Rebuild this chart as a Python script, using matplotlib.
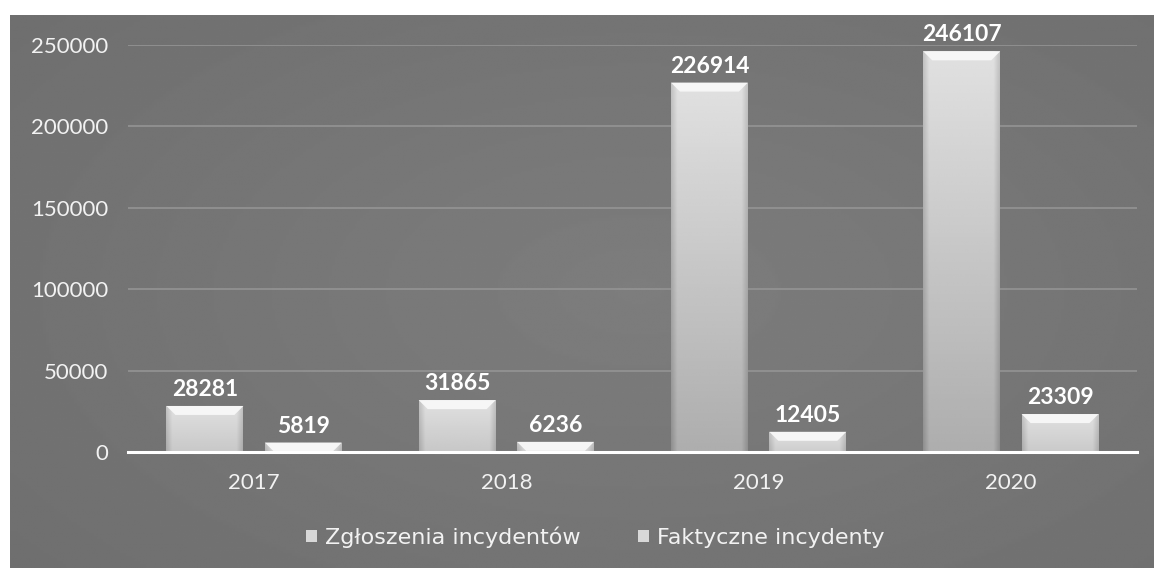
import numpy as np
import matplotlib
matplotlib.use("Agg")
import matplotlib.pyplot as plt
from matplotlib.patches import Polygon

years = ["2017", "2018", "2019", "2020"]
zgloszenia = [28281, 31865, 226914, 246107]
faktyczne = [5819, 6236, 12405, 23309]
series_names = ["Zgłoszenia incydentów", "Faktyczne incydenty"]
yticks = [0, 50000, 100000, 150000, 200000, 250000]

plt.rcParams['font.family'] = ['Lato', 'DejaVu Sans']

W, H = 1154, 568
fig = plt.figure(figsize=(W / 100, H / 100), dpi=100, facecolor='white')

# background panel with soft gradient
bg = fig.add_axes([10 / W, 0, (W - 10) / W, (H - 15) / H], zorder=0)
ny, nx = 200, 400
yy, xx = np.mgrid[0:1:ny * 1j, 0:1:nx * 1j]
r = np.sqrt(((xx - 0.55) / 0.9) ** 2 + ((yy - 0.5) / 1.0) ** 2)
grad = 0.49 - 0.07 * np.clip(r, 0, 1.2)
bg.imshow(grad, cmap='gray', vmin=0, vmax=1, aspect='auto', extent=(0, 1, 0, 1))
bg.set_axis_off()

ax = fig.add_axes([128 / W, 116 / H, (1137 - 128) / W, (452 - 45) / H], zorder=1)
ax.set_facecolor('none')

x = np.arange(len(years))
bw = 0.305
off = 0.195
b1 = ax.bar(x - off, zgloszenia, bw, color='#d0d0d0', zorder=3)
b2 = ax.bar(x + off, faktyczne, bw, color='#d0d0d0', zorder=3)

ax.set_xlim(-0.5, len(years) - 0.5)
ax.set_ylim(0, 250000)

# px -> data conversions
px_y = 250000 / 407.0
px_x = (len(years)) / 1009.0

def shade_bar(p):
    x0, y0 = p.get_x(), p.get_y()
    w, h = p.get_width(), p.get_height()
    hpx = h / px_y
    n = 120
    t = np.linspace(0, 1, n)
    edge = np.clip(np.minimum(t, 1 - t) / 0.08, 0, 1)
    hor = 0.88 * edge + 0.76 * (1 - edge)
    vy = np.linspace(0, 1, 100)[:, None]  # 0 top, 1 bottom
    drop = min(0.20, 0.15 * hpx / 200 + 0.06)
    img = hor[None, :] - drop * vy
    im = ax.imshow(img, cmap='gray', vmin=0, vmax=1, aspect='auto',
                   extent=(x0, x0 + w, y0, y0 + h), zorder=3.5, interpolation='bilinear')
    im.set_clip_path(p)
    top = y0 + h
    dy = min(9 * px_y, h)
    dx = 9 * px_x
    bevel = Polygon([(x0, top), (x0 + w, top), (x0 + w - dx, top - dy), (x0 + dx, top - dy)],
                    closed=True, facecolor='#f6f6f6', edgecolor='none', zorder=4)
    ax.add_patch(bevel)

for bars, vals in ((b1, zgloszenia), (b2, faktyczne)):
    for p, v in zip(bars, vals):
        shade_bar(p)
        ax.annotate(f"{v}", (p.get_x() + p.get_width() / 2, p.get_height()),
                    xytext=(0, 6), textcoords='offset pixels', ha='center', va='bottom',
                    color='white', fontsize=16.5, fontweight='bold', zorder=6, annotation_clip=False)

ax.set_yticks(yticks)
ax.set_yticklabels([str(v) for v in yticks])
ax.set_xticks(x)
ax.set_xticklabels(years)
ax.tick_params(axis='y', length=0, pad=14, labelsize=16, labelcolor='#f2f2f2')
ax.tick_params(axis='x', length=0, pad=15, labelsize=16, labelcolor='#f2f2f2')
ax.grid(axis='y', color='#949494', linewidth=1.2, zorder=1)
ax.set_axisbelow(True)
for s in ['top', 'right', 'left']:
    ax.spines[s].set_visible(False)
ax.spines['bottom'].set_color('white')
ax.spines['bottom'].set_linewidth(2.2)
ax.spines['bottom'].set_zorder(5)

leg = ax.legend([b1, b2], series_names, loc='center', bbox_to_anchor=(0.463, -0.209),
                ncol=2, frameon=False, handlelength=0.5, handleheight=0.5,
                handletextpad=0.35, columnspacing=2.6, labelcolor='#f2f2f2',
                prop={'family': ['DejaVu Sans'], 'size': 16})
for h in leg.legend_handles:
    h.set_facecolor('#d8d8d8')

fig.savefig('out.png', dpi=100, facecolor='white')
